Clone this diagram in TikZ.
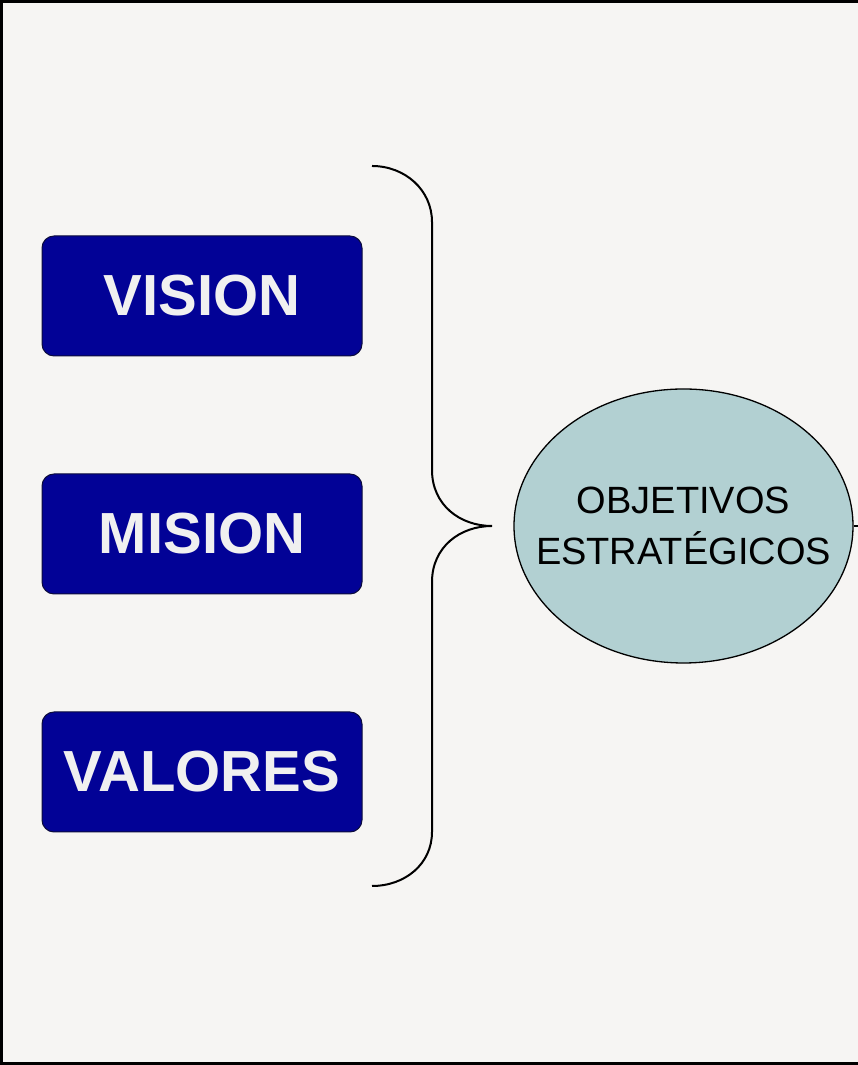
\documentclass[tikz,border=0pt]{standalone}
\usepackage{fontspec}
\setmainfont{Liberation Sans}
\usepackage{xcolor}
\usepackage{tikz}
\usetikzlibrary{positioning, shapes.geometric}

\definecolor{paper}{RGB}{246,245,243}
\definecolor{pillarfill}{RGB}{2,2,150}
\definecolor{pillarline}{RGB}{12,12,60}
\definecolor{goalfill}{RGB}{178,208,210}

\begin{document}
\begin{tikzpicture}[
  x=1pt, y=1pt,
  node distance=117pt,
  pillar/.style={
    draw=pillarline, fill=pillarfill, rounded corners=12pt,
    minimum width=320pt, minimum height=120pt, line width=1pt,
    text=white!94!black, font=\fontsize{58}{60}\selectfont\bfseries
  },
  goal/.style={
    ellipse, draw=black, fill=goalfill, line width=1.3pt,
    minimum width=339pt, minimum height=274pt,
    inner xsep=-40pt, inner ysep=0pt,
    align=center, font=\fontsize{38}{51}\selectfont
  },
]

% Page and frame
\fill[paper] (0,0) rectangle (858,1065);
\useasboundingbox (0,0) rectangle (858,1065);
\draw[line width=3pt] (858,1063.5) -- (1.5,1063.5) -- (1.5,1.5) -- (858,1.5);

% Pillars
\node[pillar] (vision) at (202,769) {VISION};
\node[pillar, below=of vision] (mision) {MISION};
\node[pillar, below=of mision] (valores) {VALORES};

% Goal
\node[goal] (objetivos) at (683.5,539) {OBJETIVOS\\ESTRAT\'EGICOS};

% Brace
\coordinate (bracetop) at (372,899);
\coordinate (bracetip) at (492,539);
\coordinate (bracebot) at (372,179);
\draw[line width=2pt] (bracetop) .. controls (405,899) and (432,875) .. (432,843)
  -- (432,595) .. controls (432,560) and (460,539) .. (bracetip)
  .. controls (460,539) and (432,518) .. (432,483)
  -- (432,233) .. controls (432,201) and (405,179) .. (bracebot);

% Link to the right
\coordinate (rightedge) at (858,539);
\draw[line width=1.3pt] (objetivos.east) -- (rightedge);

\end{tikzpicture}
\end{document}
